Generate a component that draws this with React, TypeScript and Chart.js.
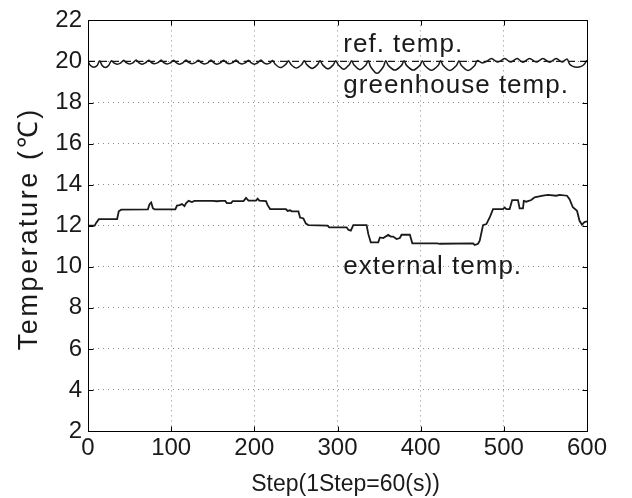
import React, { useEffect, useRef } from "react";
import { Chart, registerables } from "chart.js";

Chart.register(...registerables);

const xTickValues = [0, 100, 200, 300, 400, 500, 600];
const yTickValues = [2, 4, 6, 8, 10, 12, 14, 16, 18, 20, 22];

const refSteps = [0, 600];
const refTemps = [20, 20];

const greenhouseSteps = [
  0, 3, 7, 11, 14, 17, 21, 25, 28,
  31, 35, 39, 43, 46, 50, 54, 58, 61, 65, 69, 73, 76, 80, 84, 88,
  91, 95, 99, 103, 106, 110, 114, 118, 121, 125, 129, 133, 136, 140, 144, 148,
  151, 155, 159, 163, 166, 170, 174, 178, 181, 185, 189, 193, 196, 200, 204, 208,
  211, 215, 219, 222,
  225, 231.5, 238, 241, 244, 250.5, 257, 260, 263, 269.5, 276, 279,
  282, 288.5, 295, 298, 301, 307.5, 314, 317, 320, 327, 334, 337,
  340, 347.5, 355, 358, 361, 369, 377, 380, 383, 391, 399, 402,
  405, 413, 421, 424, 427, 435, 443, 446, 449, 457, 465, 468,
  474, 480, 485, 493, 501, 508, 516, 523, 531, 539, 547, 555, 563, 570, 576,
  579, 583, 588, 593, 597, 600,
];
const greenhouseTemps = [
  20.0, 19.8, 19.72, 19.8, 20.04, 19.8, 19.7, 19.82, 20.03,
  19.93, 19.87, 19.92, 20.06, 19.94, 19.88, 19.93, 20.07, 19.94, 19.87, 19.93, 20.06, 19.95, 19.89, 19.94, 20.07,
  19.94, 19.88, 19.93, 20.06, 19.94, 19.87, 19.93, 20.07, 19.95, 19.89, 19.94, 20.06, 19.94, 19.88, 19.93, 20.07,
  19.94, 19.87, 19.93, 20.06, 19.95, 19.89, 19.94, 20.07, 19.94, 19.88, 19.93, 20.06, 19.94, 19.87, 19.93, 20.07,
  19.94, 19.88, 19.93, 20.05,
  19.87, 19.7, 19.87, 20.04, 19.86, 19.68, 19.86, 20.04, 19.85, 19.66, 19.85, 20.04,
  19.84, 19.64, 19.84, 20.04, 19.83, 19.62, 19.83, 20.04, 19.82, 19.6, 19.82, 20.04,
  19.73, 19.42, 19.73, 20.04, 19.81, 19.58, 19.81, 20.04, 19.81, 19.58, 19.81, 20.04,
  19.8, 19.57, 19.8, 20.04, 19.8, 19.56, 19.8, 20.04, 19.8, 19.56, 19.8, 20.04,
  19.93, 20.02, 20.14, 19.97, 20.15, 19.97, 20.14, 19.96, 20.15, 19.97, 20.14, 19.96, 20.15, 19.97, 20.12,
  19.88, 19.76, 19.72, 19.76, 19.88, 20.06,
];

const externalSteps = [
  0, 8, 10, 13, 35, 37, 40, 72, 74, 76, 78, 80, 105, 107, 110, 113, 116, 118, 121, 125, 128,
  150, 155, 160, 165, 167, 172, 174, 187, 190, 193, 202, 204, 206, 214, 216, 219,
  238, 240, 243, 245, 253, 255, 259, 262, 265, 288, 290, 311, 313, 316, 319, 335,
  337, 340, 349, 351, 355, 361, 364, 367, 371, 375, 377, 387, 390, 420, 423, 463,
  465, 469, 471, 475, 479, 483, 487, 499, 501, 503, 507, 510, 517, 519, 523, 524,
  527, 533, 537, 547, 553, 563, 567, 576, 579, 583, 588, 591, 594, 597, 600,
];
const externalTemps = [
  12.0, 12.0, 12.15, 12.32, 12.32, 12.7, 12.78, 12.8, 13.05, 13.13, 12.85, 12.8, 12.8, 12.98, 13.0, 13.05, 12.95, 13.1, 13.21, 13.15, 13.21,
  13.21, 13.19, 13.21, 13.21, 13.1, 13.1, 13.2, 13.2, 13.35, 13.22, 13.22, 13.32, 13.22, 13.2, 13.0, 12.81,
  12.81, 12.72, 12.75, 12.7, 12.7, 12.4, 12.35, 12.1, 12.03, 12.0, 11.92, 11.92, 11.8, 11.76, 12.03, 12.03,
  11.6, 11.19, 11.19, 11.43, 11.4, 11.55, 11.47, 11.47, 11.35, 11.4, 11.56, 11.56, 11.14, 11.14, 11.12, 11.14,
  11.06, 11.12, 11.27, 12.03, 12.08, 12.4, 12.81, 12.81, 12.89, 12.81, 12.81, 13.25, 13.25, 12.84, 12.84, 13.21,
  13.17, 13.25, 13.38, 13.46, 13.5, 13.46, 13.5, 13.46, 13.29, 12.9, 12.73, 12.24, 12.05, 12.18, 12.21,
];

const labelTexts = ["ref. temp.", "greenhouse temp.", "external temp."];
const labelSteps = [307, 307, 307];
const labelTemps = [20.48, 18.45, 9.65];

const xTitle = "Step(1Step=60(s))";
const yTitle = "Temperature (℃)";

const FONT = '"Liberation Sans", Arial, Helvetica, sans-serif';
const INK = "#1a1a1a";

function toPoints(xs: number[], ys: number[]) {
  return xs.map((x, i) => ({ x, y: ys[i] }));
}

const framePlugin = {
  id: "matlabFrame",
  afterDatasetsDraw(chart: any) {
    const { ctx, chartArea, scales } = chart;
    const { left, right, top, bottom } = chartArea;
    const xs = scales.x;
    const ys = scales.y;
    ctx.save();
    ctx.strokeStyle = "#000";
    ctx.lineWidth = 1;
    ctx.setLineDash([]);
    const L = Math.round(left) + 0.5;
    const R = Math.round(right) + 0.5;
    const T = Math.round(top) + 0.5;
    const B = Math.round(bottom) + 0.5;
    ctx.beginPath();
    ctx.rect(L, T, R - L, B - T);
    const tl = 5;
    xTickValues.forEach((v) => {
      const px = Math.round(xs.getPixelForValue(v)) + 0.5;
      ctx.moveTo(px, B);
      ctx.lineTo(px, B - tl);
      ctx.moveTo(px, T);
      ctx.lineTo(px, T + tl);
    });
    yTickValues.forEach((v) => {
      const py = Math.round(ys.getPixelForValue(v)) + 0.5;
      ctx.moveTo(L, py);
      ctx.lineTo(L + tl, py);
      ctx.moveTo(R, py);
      ctx.lineTo(R - tl, py);
    });
    ctx.stroke();

    ctx.fillStyle = INK;
    ctx.font = `26px ${FONT}`;
    (ctx as any).letterSpacing = "1px";
    ctx.textAlign = "left";
    ctx.textBaseline = "alphabetic";
    labelTexts.forEach((t, i) => {
      ctx.fillText(t, xs.getPixelForValue(labelSteps[i]), ys.getPixelForValue(labelTemps[i]));
    });

    // axis titles
    (ctx as any).letterSpacing = "0px";
    ctx.font = `23px ${FONT}`;
    ctx.textAlign = "center";
    ctx.fillText(xTitle, (left + right) / 2 + 8, 491);

    ctx.save();
    ctx.translate(30, (top + bottom) / 2 + 3);
    ctx.rotate(-Math.PI / 2);
    ctx.font = `27px ${FONT}`;
    (ctx as any).letterSpacing = "2.6px";
    ctx.textBaseline = "middle";
    ctx.fillText(yTitle, 0, 0);
    ctx.restore();

    ctx.restore();
  },
};

export default function App() {
  const ref = useRef<HTMLCanvasElement | null>(null);

  useEffect(() => {
    if (!ref.current) return;
    const chart = new Chart(ref.current, {
      type: "line",
      data: {
        datasets: [
          {
            label: "ref. temp.",
            data: toPoints(refSteps, refTemps),
            borderColor: INK,
            borderWidth: 1.2,
            borderDash: [7, 5],
            pointRadius: 0,
            tension: 0,
          },
          {
            label: "greenhouse temp.",
            data: toPoints(greenhouseSteps, greenhouseTemps),
            borderColor: INK,
            borderWidth: 1.5,
            pointRadius: 0,
            tension: 0.3,
          },
          {
            label: "external temp.",
            data: toPoints(externalSteps, externalTemps),
            borderColor: INK,
            borderWidth: 1.8,
            pointRadius: 0,
            tension: 0,
          },
        ],
      },
      options: {
        animation: false,
        responsive: false,
        events: [],
        layout: { padding: { top: 19, right: 45, left: 0, bottom: 0 } },
        plugins: { legend: { display: false }, tooltip: { enabled: false } },
        scales: {
          x: {
            type: "linear",
            min: 0,
            max: 600,
            afterFit: (s: any) => {
              s.height = 67;
            },
            afterBuildTicks: (s: any) => {
              s.ticks = xTickValues.map((v) => ({ value: v }));
            },
            ticks: {
              padding: 3,
              color: INK,
              font: { family: FONT, size: 24 },
              maxRotation: 0,
            },
            grid: { color: "#8a8a8a", lineWidth: 1, drawTicks: false },
            border: { display: false, dash: [1, 4] },
            title: { display: false },
          },
          y: {
            type: "linear",
            min: 2,
            max: 22,
            afterFit: (s: any) => {
              s.width = 88;
            },
            afterBuildTicks: (s: any) => {
              s.ticks = yTickValues.map((v) => ({ value: v }));
            },
            ticks: {
              padding: 6,
              color: INK,
              font: { family: FONT, size: 24 },
            },
            grid: { color: "#8a8a8a", lineWidth: 1, drawTicks: false },
            border: { display: false, dash: [1, 4] },
            title: { display: false },
          },
        },
      },
      plugins: [framePlugin],
    } as any);
    return () => chart.destroy();
  }, []);

  return (
    <div style={{ position: "fixed", left: 0, top: 0, width: 632, height: 498, background: "#fff" }}>
      <canvas ref={ref} width={632} height={498} style={{ width: 632, height: 498, display: "block" }} />
    </div>
  );
}
